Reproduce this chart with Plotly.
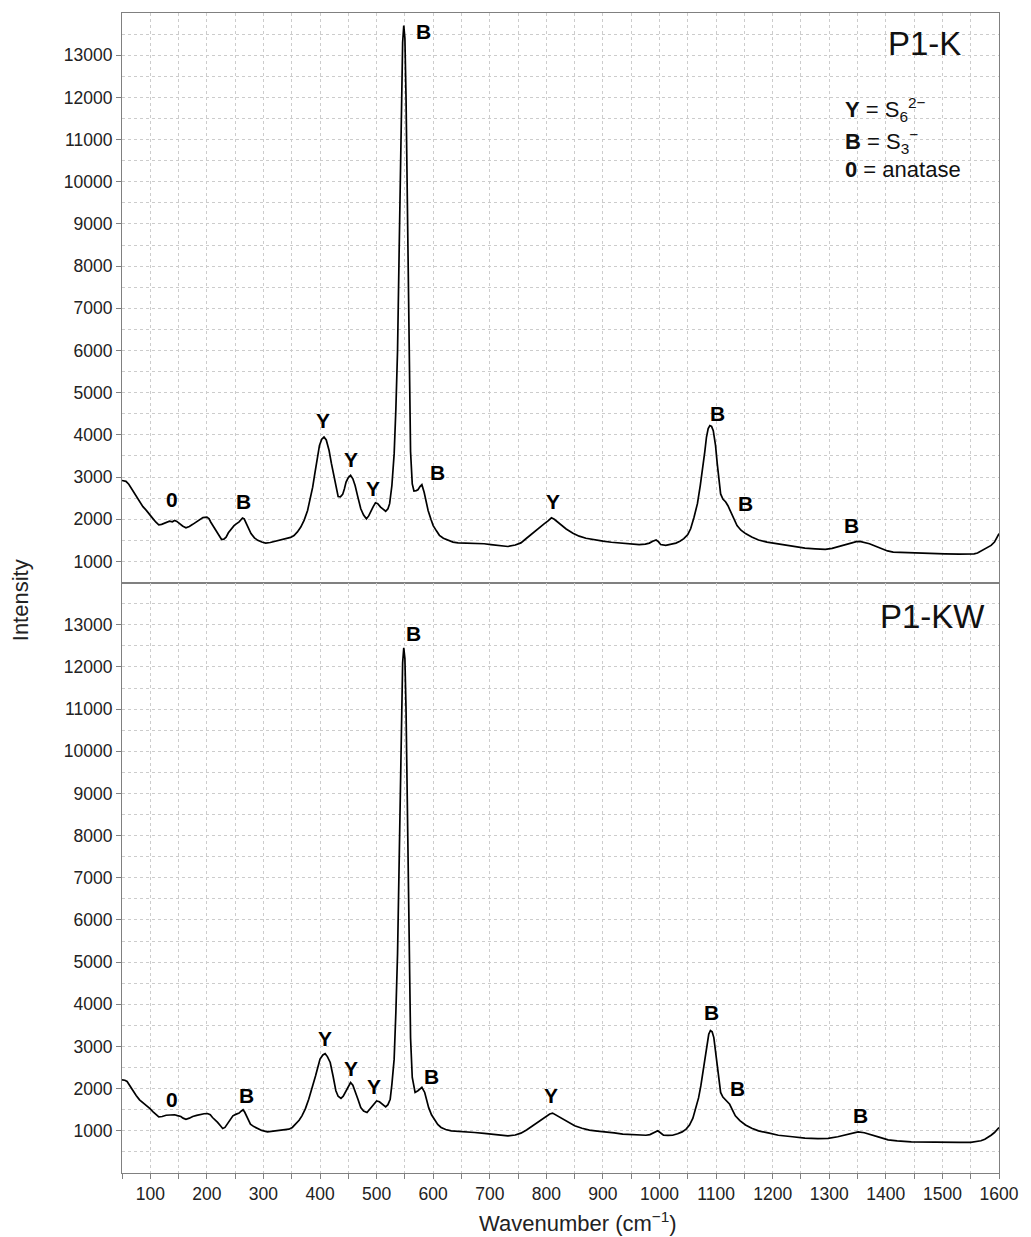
import plotly.graph_objects as go
from plotly.subplots import make_subplots

# ---------------- data ----------------
wn_k = [50, 57, 62, 69, 75, 81, 87, 93, 99, 105, 110, 115, 120, 125, 130, 134, 139, 143, 147, 152, 157, 163, 169, 175, 181, 187, 193, 200, 204, 207, 212, 216, 221, 226, 230, 234, 238, 243, 248, 252, 257, 263, 266, 270, 274, 278, 284, 290, 297, 304, 312, 322, 330, 340, 348, 354, 360, 366, 372, 378, 383, 387, 391, 395, 399, 403, 407, 411, 416, 420, 425, 428, 432, 436, 440, 443, 446, 450, 454, 458, 462, 467, 472, 477, 482, 486, 489, 494, 498, 502, 507, 512, 516, 520, 523, 527, 531, 534, 537, 540, 543, 546, 548, 550, 552, 554, 556, 558, 560, 563, 566, 570, 573, 577, 580, 584, 588, 591, 596, 600, 606, 611, 618, 626, 635, 644, 660, 673, 690, 702, 716, 732, 745, 755, 765, 772, 779, 788, 796, 803, 809, 814, 824, 835, 847, 858, 870, 885, 900, 915, 929, 945, 964, 975, 982, 988, 994, 998, 1002, 1011, 1020, 1029, 1036, 1043, 1050, 1055, 1061, 1067, 1072, 1076, 1080, 1083, 1086, 1089, 1092, 1095, 1099, 1102, 1105, 1108, 1112, 1117, 1121, 1125, 1131, 1137, 1144, 1152, 1163, 1175, 1190, 1210, 1230, 1257, 1275, 1293, 1305, 1316, 1328, 1339, 1348, 1354, 1362, 1371, 1382, 1392, 1403, 1413, 1430, 1445, 1470, 1504, 1530, 1556, 1562, 1568, 1575, 1580, 1586, 1592, 1597, 1600]
int_k = [2920, 2900, 2830, 2680, 2540, 2400, 2300, 2210, 2100, 2010, 1930, 1870, 1880, 1910, 1930, 1955, 1940, 1970, 1950, 1890, 1840, 1800, 1830, 1880, 1940, 2000, 2040, 2050, 2010, 1930, 1830, 1735, 1620, 1520, 1530, 1575, 1680, 1775, 1850, 1890, 1940, 2030, 2010, 1890, 1770, 1660, 1560, 1500, 1460, 1435, 1450, 1480, 1500, 1540, 1570, 1615, 1700, 1815, 1980, 2210, 2480, 2760, 3100, 3470, 3750, 3900, 3950, 3880, 3630, 3330, 3000, 2750, 2540, 2530, 2590, 2720, 2880, 2990, 3040, 2960, 2800, 2520, 2250, 2100, 2010, 2080, 2170, 2300, 2390, 2370, 2290, 2230, 2190, 2250, 2370, 2800, 3550, 4600, 6000, 8500, 11500, 13300, 13700, 13400, 12000, 9800, 7200, 4800, 3600, 2840, 2670, 2680, 2700, 2780, 2820, 2640, 2400, 2210, 2000, 1850, 1720, 1620, 1550, 1500, 1460, 1440, 1435, 1430, 1420, 1400, 1380, 1355, 1390, 1440, 1550, 1630, 1700, 1800, 1890, 1960, 2035, 2000, 1880, 1770, 1670, 1600, 1550, 1510, 1480, 1455, 1435, 1420, 1400, 1410, 1435, 1480, 1510, 1470, 1400, 1380, 1400, 1435, 1480, 1540, 1640, 1775, 2050, 2370, 2800, 3160, 3600, 3950, 4150, 4220, 4200, 4100, 3750, 3320, 2900, 2600, 2480, 2410, 2320, 2210, 2020, 1850, 1740, 1660, 1580, 1510, 1460, 1420, 1370, 1315, 1300, 1285, 1310, 1355, 1400, 1435, 1470, 1475, 1450, 1420, 1360, 1300, 1250, 1220, 1210, 1200, 1190, 1180, 1175, 1180, 1200, 1245, 1290, 1330, 1380, 1460, 1570, 1660]

wn_kw = [50, 55, 59, 64, 69, 75, 81, 87, 93, 99, 105, 110, 115, 121, 128, 135, 143, 148, 154, 158, 163, 169, 175, 182, 189, 195, 201, 206, 210, 215, 219, 224, 228, 232, 236, 241, 246, 251, 257, 261, 264, 267, 270, 273, 277, 283, 289, 297, 307, 317, 327, 336, 345, 351, 357, 363, 368, 374, 380, 386, 392, 396, 400, 405, 409, 413, 418, 423, 428, 432, 437, 441, 446, 450, 454, 458, 462, 467, 472, 477, 483, 487, 491, 496, 500, 505, 509, 513, 516, 520, 524, 527, 531, 534, 537, 540, 543, 546, 548, 550, 552, 554, 556, 558, 560, 563, 566, 568, 573, 577, 580, 585, 588, 592, 597, 603, 608, 614, 622, 632, 650, 673, 690, 702, 716, 732, 745, 755, 765, 776, 785, 793, 800, 806, 811, 816, 827, 838, 850, 863, 876, 890, 906, 920, 935, 955, 976, 983, 988, 993, 997, 1001, 1007, 1015, 1023, 1032, 1040, 1047, 1053, 1059, 1064, 1069, 1073, 1077, 1081, 1084, 1087, 1090, 1093, 1096, 1099, 1102, 1105, 1108, 1112, 1117, 1121, 1124, 1129, 1134, 1142, 1152, 1163, 1175, 1192, 1210, 1235, 1257, 1280, 1298, 1315, 1328, 1340, 1351, 1362, 1372, 1388, 1404, 1420, 1445, 1475, 1504, 1530, 1550, 1562, 1568, 1575, 1580, 1586, 1592, 1597, 1600]
int_kw = [2210, 2200, 2170, 2060, 1950, 1840, 1735, 1670, 1615, 1530, 1450, 1380, 1330, 1340, 1370, 1375, 1380, 1360, 1340, 1300, 1275, 1300, 1340, 1365, 1390, 1405, 1410, 1380, 1315, 1260, 1200, 1120, 1055, 1080, 1160, 1260, 1355, 1390, 1420, 1470, 1500, 1440, 1355, 1250, 1160, 1100, 1055, 1010, 975, 990, 1000, 1020, 1040, 1080, 1160, 1250, 1355, 1520, 1750, 2000, 2300, 2500, 2700, 2800, 2830, 2760, 2620, 2300, 1950, 1820, 1770, 1820, 1950, 2070, 2145, 2080, 1950, 1750, 1550, 1470, 1435, 1500, 1590, 1670, 1710, 1690, 1650, 1590, 1570, 1620, 1750, 2100, 2700, 3800, 5200, 7500, 10300, 12100, 12450, 12200, 11000, 8800, 6300, 4300, 3200, 2265, 1980, 1910, 1950, 2000, 2030, 1910, 1720, 1550, 1380, 1240, 1150, 1080, 1030, 1000, 975, 960, 940, 920, 900, 880, 900, 945, 1020, 1120, 1210, 1290, 1355, 1400, 1420, 1380, 1290, 1200, 1120, 1060, 1015, 995, 975, 950, 920, 905, 895, 910, 945, 990, 1000, 960, 895, 890, 895, 930, 975, 1040, 1135, 1300, 1515, 1780, 2065, 2400, 2780, 3050, 3290, 3380, 3350, 3210, 2900, 2540, 2200, 1910, 1800, 1735, 1680, 1630, 1490, 1355, 1240, 1140, 1060, 1000, 950, 895, 860, 825, 815, 820, 860, 895, 940, 975, 955, 920, 850, 785, 760, 740, 730, 725, 725, 725, 740, 765, 800, 840, 895, 960, 1030, 1080]

# peak-assignment labels (letter, wavenumber, intensity)
lab_k_text = ["0", "B", "Y", "Y", "Y", "B", "B", "Y", "B", "B", "B"]
lab_k_x = [138, 264, 405, 454, 493, 582, 607, 811, 1103, 1152, 1340]
lab_k_y = [2460, 2420, 4330, 3410, 2720, 13550, 3120, 2420, 4500, 2380, 1850]

lab_kw_text = ["0", "B", "Y", "Y", "Y", "B", "B", "Y", "B", "B", "B"]
lab_kw_x = [138, 270, 408, 455, 495, 565, 597, 809, 1091, 1138, 1355]
lab_kw_y = [1735, 1830, 3200, 2480, 2050, 12800, 2300, 1845, 3800, 2000, 1370]

sample_names = ["P1-K", "P1-KW"]
legend_lines = ["<b>Y</b> = S<sub>6</sub><sup>2−</sup>", "<b>B</b> = S<sub>3</sub><sup>−</sup>", "<b>0</b> = anatase"]
legend_y = [11710, 10950, 10290]

y_ticks = list(range(1000, 14000, 1000))
y_ticktext = [str(v) for v in y_ticks]

# ---------------- figure ----------------
FONT = "Liberation Sans, Arial, sans-serif"
GRID = "#cccccc"
AXC = "#808080"

fig = make_subplots(rows=2, cols=1, shared_xaxes=True, vertical_spacing=0)

fig.add_trace(go.Scatter(x=wn_k, y=int_k, mode="lines",
                         line=dict(color="black", width=1.7), showlegend=False), row=1, col=1)
fig.add_trace(go.Scatter(x=wn_kw, y=int_kw, mode="lines",
                         line=dict(color="black", width=1.7), showlegend=False), row=2, col=1)

xcommon = dict(range=[50, 1600], showline=True, mirror=True, linecolor=AXC, linewidth=1.2,
               showgrid=True, gridcolor=GRID, griddash="dot", gridwidth=1,
               tick0=0, dtick=100, zeroline=False,
               minor=dict(dtick=50, tick0=0, showgrid=True, gridcolor=GRID, griddash="dot", gridwidth=1))
fig.update_xaxes(**xcommon)
fig.update_xaxes(showticklabels=False, ticks="", minor_ticks="", row=1, col=1)
fig.update_xaxes(ticks="outside", ticklen=5, tickcolor=AXC, minor_ticks="outside", minor_ticklen=5,
                 minor_tickcolor=AXC, tickfont=dict(family=FONT, size=17.5, color="#222"), row=2, col=1)

ycommon = dict(showline=True, mirror=True, linecolor=AXC, linewidth=1.2,
               showgrid=True, gridcolor=GRID, griddash="dot", gridwidth=1,
               tickvals=y_ticks, ticktext=y_ticktext, ticks="outside", ticklen=5, tickcolor=AXC,
               zeroline=False, tickfont=dict(family=FONT, size=17.5, color="#222"),
               minor=dict(dtick=500, tick0=0, showgrid=True, gridcolor=GRID, griddash="dot", gridwidth=1, ticks=""))
fig.update_yaxes(**ycommon)
fig.update_yaxes(range=[500, 14000], domain=[0.509, 1.0], row=1, col=1)
fig.update_yaxes(range=[0, 14000], domain=[0.0, 0.509], row=2, col=1)

# peak labels
for t, x, y in zip(lab_k_text, lab_k_x, lab_k_y):
    fig.add_annotation(x=x, y=y, xref="x", yref="y", text="<b>" + t + "</b>", showarrow=False,
                       font=dict(family=FONT, size=21, color="black"))
for t, x, y in zip(lab_kw_text, lab_kw_x, lab_kw_y):
    fig.add_annotation(x=x, y=y, xref="x2", yref="y2", text="<b>" + t + "</b>", showarrow=False,
                       font=dict(family=FONT, size=21, color="black"))

# sample names
fig.add_annotation(x=1536, y=13270, xref="x", yref="y", text=sample_names[0], showarrow=False,
                   xanchor="right", yanchor="middle", font=dict(family=FONT, size=33, color="#111"))
fig.add_annotation(x=1578, y=13200, xref="x2", yref="y2", text=sample_names[1], showarrow=False,
                   xanchor="right", yanchor="middle", font=dict(family=FONT, size=33, color="#111"))

# key
for txt, y in zip(legend_lines, legend_y):
    fig.add_annotation(x=1324, y=y, xref="x", yref="y", text=txt, showarrow=False,
                       xanchor="left", yanchor="middle", font=dict(family=FONT, size=22, color="#111"))

# axis titles
fig.add_annotation(x=(20 - 122) / (1031 - 122 - 26), y=0.4935, xref="paper", yref="paper",
                   xanchor="center", yanchor="middle",
                   text="Intensity", textangle=-90, showarrow=False,
                   font=dict(family=FONT, size=22, color="#222"))
fig.add_annotation(x=0.52, y=-0.042, xref="paper", yref="paper", xanchor="center", yanchor="middle",
                   text="Wavenumber (cm<sup>−1</sup>)", showarrow=False,
                   font=dict(family=FONT, size=22, color="#222"))

fig.update_layout(width=1031, height=1237, margin=dict(l=122, r=26, t=12, b=64),
                  plot_bgcolor="white", paper_bgcolor="white", showlegend=False)

fig.write_html("out.html")
